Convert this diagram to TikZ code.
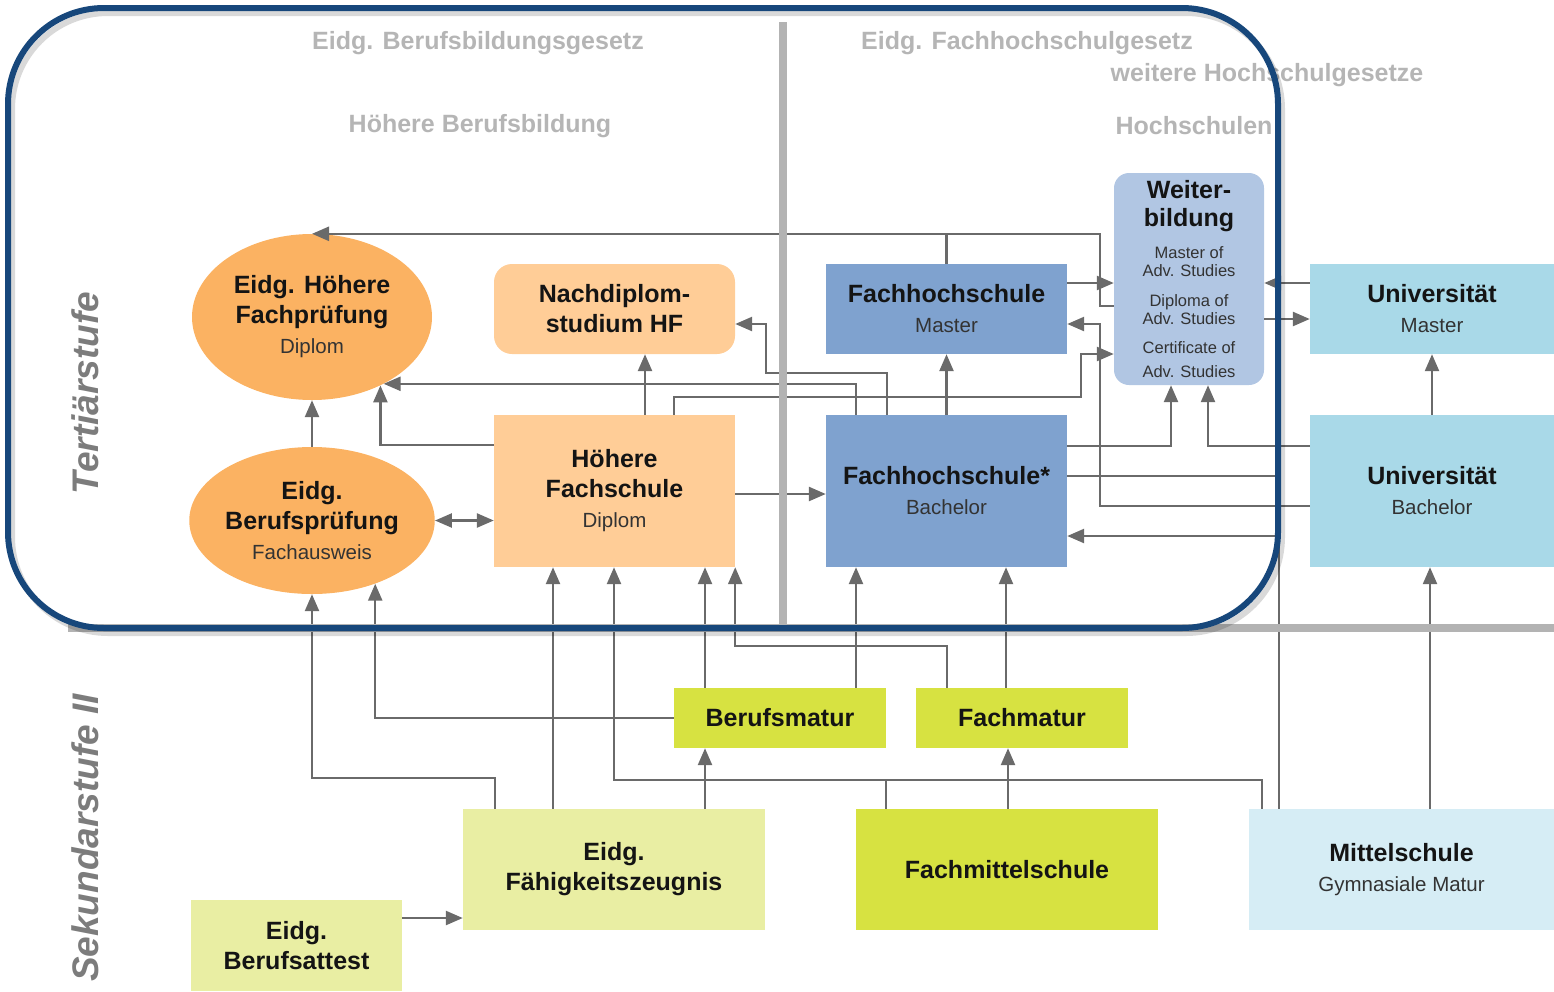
\documentclass[tikz,border=0pt]{standalone}
\usepackage{fontspec}
\usepackage{color}
\setmainfont{Liberation Sans}
\usetikzlibrary{shapes.geometric,arrows.meta}
\definecolor{ovalorange}{HTML}{FBB262}
\definecolor{boxorange}{HTML}{FFCD97}
\definecolor{fhblue}{HTML}{7FA2CF}
\definecolor{wbblue}{HTML}{B1C6E3}
\definecolor{unicyan}{HTML}{A9D9E8}
\definecolor{mscyan}{HTML}{D6EDF5}
\definecolor{limegreen}{HTML}{D7E241}
\definecolor{paleyellow}{HTML}{E9EEA3}
\definecolor{linegray}{HTML}{6A6A6A}
\definecolor{sepgray}{HTML}{B3B3B3}
\definecolor{hdrgray}{HTML}{B5B5B5}
\definecolor{stufegray}{HTML}{7C7C7C}
\definecolor{framecol}{HTML}{17477B}
\def\ttl{\fontsize{25}{30}\selectfont\bfseries}
\def\subtl{\fontsize{20.5}{24}\selectfont\mdseries\color{black!80}}
\tikzset{
  box/.style={inner sep=0pt, align=center, text=black!92, font=\ttl},
  oval/.style={box, ellipse, fill=ovalorange, minimum width=240, minimum height=166},
  conn/.style={draw=linegray, line width=2.5pt, -{Triangle[length=17pt,width=14pt]}},
  joinline/.style={draw=linegray, line width=2.5pt},
  sepline/.style={draw=sepgray, line width=8pt},
  hdr/.style={text=hdrgray, font=\ttl},
  stufe/.style={rotate=90, text=stufegray, font=\fontsize{37}{40}\selectfont\bfseries\itshape},
}

\begin{document}
\begin{tikzpicture}[x=1pt, y=-1pt]
  \useasboundingbox (0,0) rectangle (1554,991);

  \node[oval] (hfp) at (312,317) {Eidg. Höhere\\Fachprüfung\\{\subtl Diplom}};
  \node[oval, minimum height=147] (bp) at (312,520.5) {Eidg.\\Berufsprüfung\\{\subtl Fachausweis}};
  \node[box, fill=boxorange, rounded corners=18pt, minimum width=241, minimum height=90] (nds) at (614.5,309) {Nachdiplom-\\studium HF};
  \node[box, fill=boxorange, minimum width=241, minimum height=152] (hf) at (614.5,491) {Höhere\\Fachschule\\{\subtl Diplom}};
  \node[box, fill=fhblue, minimum width=241, minimum height=90] (fhm) at (946.5,309) {Fachhochschule\\{\subtl Master}};
  \node[box, fill=fhblue, minimum width=241, minimum height=152] (fhb) at (946.5,491) {Fachhochschule*\\{\subtl Bachelor}};
  \node[box, fill=wbblue, rounded corners=15pt, minimum width=150, minimum height=212, text=black!80,
    font=\fontsize{16.5}{18}\selectfont] (wb) at (1189,279)
    {{\ttl\color{black!92}Weiter-}\\[8pt]{\ttl\color{black!92}bildung}\\[14pt]Master of\\Adv. Studies\\[12pt]Diploma of\\Adv. Studies\\[11pt]Certificate of\\[6pt]Adv. Studies};
  \node[box, fill=unicyan, minimum width=244, minimum height=90] (unim) at (1432,309) {Universität\\{\subtl Master}};
  \node[box, fill=unicyan, minimum width=244, minimum height=152] (unib) at (1432,491) {Universität\\{\subtl Bachelor}};
  \node[box, fill=limegreen, minimum width=212, minimum height=60] (bm) at (780,718) {Berufsmatur};
  \node[box, fill=limegreen, minimum width=212, minimum height=60] (fm) at (1022,718) {Fachmatur};
  \node[box, fill=paleyellow, minimum width=302, minimum height=121] (efz) at (614,869.5) {Eidg.\\Fähigkeitszeugnis};
  \node[box, fill=limegreen, minimum width=302, minimum height=121] (fms) at (1007,869.5) {Fachmittelschule};
  \node[box, fill=mscyan, minimum width=305, minimum height=121] (ms) at (1401.5,869.5) {Mittelschule\\{\subtl Gymnasiale Matur}};
  \node[box, fill=paleyellow, minimum width=211, minimum height=91] (eba) at (296.5,945.5) {Eidg.\\Berufsattest};

  \draw[conn] (fhm.north) |- (hfp.north);
  \draw[joinline] (wb.west |- 0,306) -| (1100,234) -- (fhm.north |- 0,234);
  \draw[conn] (fhm.east |- 0,283) -- (wb.west |- 0,283);
  \draw[conn] (unib.west |- 0,506) -| (1100,324) -- (fhm.east |- 0,324);
  \draw[conn] (hf.north -| 674,0) |- (1081,397) |- (wb.west |- 0,354);
  \draw[conn] (fhb.north -| 856,0) |- (hfp.-43);
  \draw[conn] (hf.west |- 0,445) -| (hfp.-45);
  \draw[conn] (fhb.north -| 887,0) |- (766,373) |- (nds.east |- 0,324);
  \draw[conn] (fhb) -- (fhm);
  \draw[conn] (hf.north -| 645,0) -- (nds.south -| 645,0);
  \draw[conn] (bp) -- (hfp);
  \draw[conn, {Triangle[length=17pt,width=14pt]}-{Triangle[length=17pt,width=14pt]}] (bp.east) -- (hf.west |- bp.east);
  \draw[conn] (hf.east |- 0,494) -- (fhb.west |- 0,494);
  \draw[conn] (fhb.east |- 0,446) -| (wb.south -| 1171,0);
  \draw[conn] (unib.west |- 0,446) -| (wb.south -| 1208,0);
  \draw[joinline] (fhb.east |- 0,476) -| (ms.north -| 1279,0);
  \draw[conn] (ms.north -| 1279,0) |- (fhb.east |- 0,536);
  \draw[conn] (unim.west |- 0,283) -- (wb.east |- 0,283);
  \draw[conn] (wb.east |- 0,319) -- (unim.west |- 0,319);
  \draw[conn] (unib) -- (unim);
  \draw[conn] (ms.north -| 1430,0) -- (unib.south -| 1430,0);
  \draw[conn] (ms.north -| 1262,0) |- (614,780) -- (hf.south -| 614,0);
  \draw[joinline] (fms.north -| 886,0) -- ++(0,-29);
  \draw[conn] (fms.north -| 1008,0) -- (fm.south -| 1008,0);
  \draw[conn] (efz.north -| 495,0) -- ++(0,-31) -| (bp.south);
  \draw[conn] (efz.north -| 553,0) -- (hf.south -| 553,0);
  \draw[conn] (efz.north -| 705,0) -- (bm.south -| 705,0);
  \draw[conn] (bm.north -| 705,0) -- (hf.south -| 705,0);
  \draw[conn] (bm.west) -| (bp.-45);
  \draw[conn] (bm.north -| 856,0) -- (fhb.south -| 856,0);
  \draw[conn] (fm.north -| 947,0) -- ++(0,-42) -| (hf.south east);
  \draw[conn] (fm.north -| 1006,0) -- (fhb.south -| 1006,0);
  \draw[conn] (eba.east |- 0,918) -- (efz.west |- 0,918);

  \draw[sepline] (783,22) -- (783,628);
  \draw[sepline] (68,628) -- (1554,628);

  \node[hdr] (bbg) at (478,43) {Eidg. Berufsbildungsgesetz};
  \node[hdr] (hbb) at (480,126) {Höhere Berufsbildung};
  \node[hdr] (fhg) at (1027,43) {Eidg. Fachhochschulgesetz};
  \node[hdr] (whg) at (1267,75) {weitere Hochschulgesetze};
  \node[hdr] (hs) at (1194,126) {Hochschulen};
  \node[stufe] (tert) at (85,393) {Tertiärstufe};
  \node[stufe] (sek) at (85,838) {Sekundarstufe II};

  \draw[line width=6pt, black, opacity=0.15, rounded corners=96pt] (12,13) rectangle (1282,633);
  \draw[line width=6pt, framecol, rounded corners=96pt] (8,8) rectangle (1278,628);
\end{tikzpicture}
\end{document}
